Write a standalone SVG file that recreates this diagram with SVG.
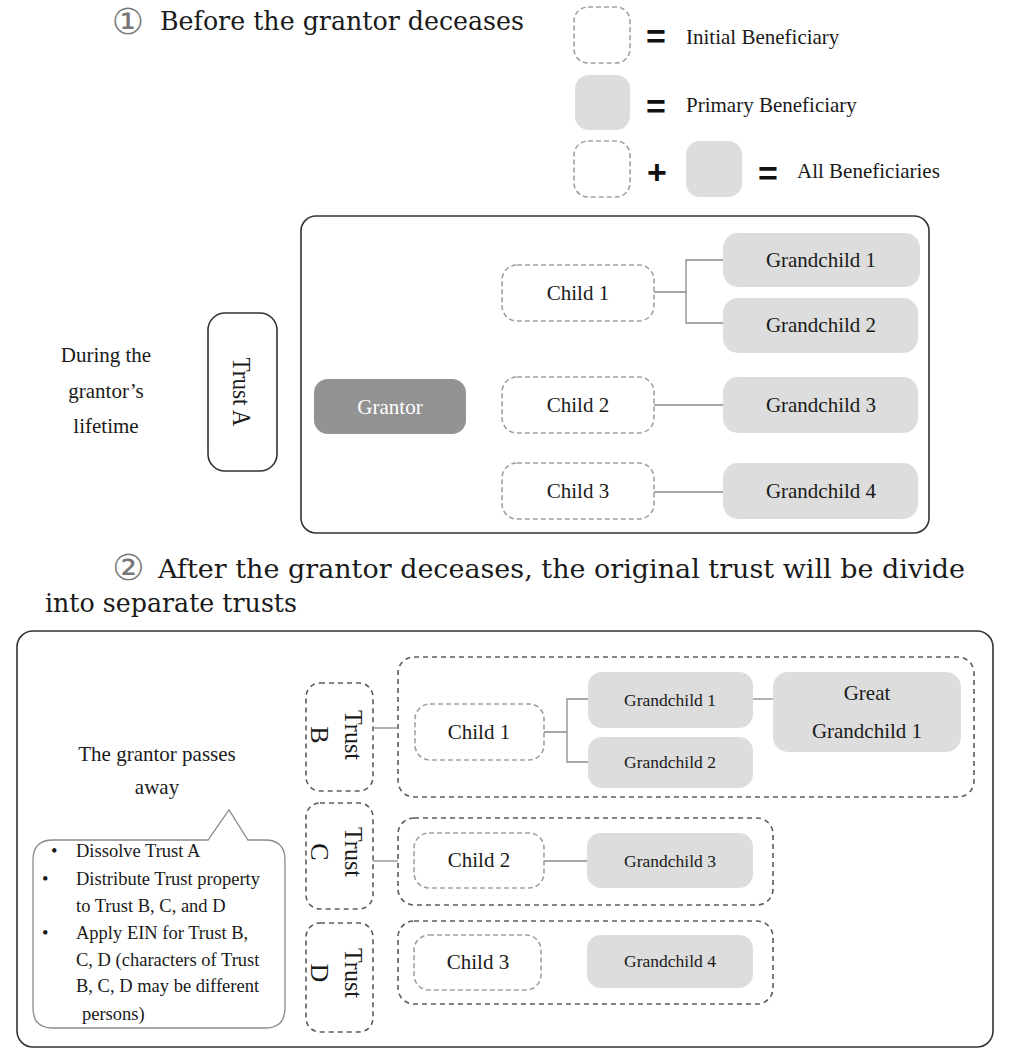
<svg xmlns="http://www.w3.org/2000/svg" width="1009" height="1062" viewBox="0 0 1009 1062" font-family="'Liberation Serif', 'DejaVu Serif', serif">
<style>
text{font-family:"Liberation Serif","DejaVu Serif",serif;fill:#1a1a1a}
.c{text-anchor:middle}
.f21{font-size:21px}
.f18{font-size:18.5px}
.f17{font-size:17.5px}
.ttl{font-family:"DejaVu Serif",serif;font-size:26px}
.rot{font-size:26px}
.sym{font-family:"Liberation Sans",Arial,sans-serif;font-weight:bold;font-size:34px;fill:#111}
.circ{font-family:"DejaVu Sans","Noto Sans CJK JP",sans-serif;font-size:36px;fill:#777;text-anchor:middle}
.frame{fill:none;stroke:#333;stroke-width:1.6}
.trust{fill:#fff;stroke:#333;stroke-width:1.6}
.ini{fill:#fff;stroke:#a0a0a0;stroke-width:1.6;stroke-dasharray:5 3}
.pri{fill:#dcdddc}
.grp{fill:none;stroke:#5c5c5c;stroke-width:1.6;stroke-dasharray:5 4}
.gtr{fill:#939393}
.ln{fill:none;stroke:#8a8a8a;stroke-width:1.3}
.bubble{fill:#fff;stroke:#8a8a8a;stroke-width:1.3}
</style>

<!-- Titles -->
<g id="title1">
<text class="circ" x="128" y="34">①</text>
<text class="ttl" x="160" y="30" textLength="364" lengthAdjust="spacingAndGlyphs">Before the grantor deceases</text>
</g>
<g id="title2">
<text class="circ" x="128.5" y="580">②</text>
<text class="ttl" x="158" y="578" textLength="807" lengthAdjust="spacingAndGlyphs">After the grantor deceases, the original trust will be divide</text>
<text class="ttl" x="45" y="612" textLength="252" lengthAdjust="spacingAndGlyphs">into separate trusts</text>
</g>

<!-- Legend -->
<g id="legend">
<rect class="ini" x="574" y="7" width="56" height="56" rx="14"/>
<text class="sym" x="646" y="48">=</text>
<text class="f21" x="686" y="44">Initial Beneficiary</text>
<rect class="pri" x="575" y="75" width="55" height="55" rx="14"/>
<text class="sym" x="646" y="118">=</text>
<text class="f21" x="686" y="112">Primary Beneficiary</text>
<rect class="ini" x="574" y="141" width="56" height="56" rx="14"/>
<text class="sym" x="647" y="184">+</text>
<rect class="pri" x="686" y="141" width="56" height="56" rx="14"/>
<text class="sym" x="758" y="185">=</text>
<text class="f21" x="797" y="178">All Beneficiaries</text>
</g>

<!-- Section 1 -->
<g id="lifetime-label">
<text class="f21 c" x="106" y="362">During the</text>
<text class="f21 c" x="106" y="398">grantor’s</text>
<text class="f21 c" x="106" y="433">lifetime</text>
</g>
<g id="trustA">
<rect class="trust" x="208" y="313" width="69" height="158" rx="17"/>
<text class="rot c" transform="translate(233,392) rotate(90)" textLength="69" lengthAdjust="spacingAndGlyphs">Trust A</text>
</g>
<g id="frame1">
<rect class="frame" x="301" y="216" width="628" height="317" rx="15"/>
</g>
<g id="grantor">
<rect class="gtr" x="314" y="379" width="152" height="55" rx="14"/>
<text class="f21 c" x="390" y="414" style="fill:#fff">Grantor</text>
</g>
<g id="s1-child1">
<rect class="ini" x="502" y="265" width="152" height="56" rx="15"/>
<text class="f21 c" x="578" y="300">Child 1</text>
</g>
<g id="s1-gc1">
<rect class="pri" x="723" y="233" width="197" height="54" rx="15"/>
<text class="f21 c" x="821" y="267">Grandchild 1</text>
</g>
<g id="s1-gc2">
<rect class="pri" x="723" y="298" width="195" height="55" rx="15"/>
<text class="f21 c" x="821" y="332">Grandchild 2</text>
</g>
<g id="s1-child2">
<rect class="ini" x="502" y="377" width="152" height="56" rx="15"/>
<text class="f21 c" x="578" y="412">Child 2</text>
</g>
<g id="s1-gc3">
<rect class="pri" x="723" y="377" width="195" height="56" rx="15"/>
<text class="f21 c" x="821" y="412">Grandchild 3</text>
</g>
<g id="s1-child3">
<rect class="ini" x="502" y="463" width="152" height="56" rx="15"/>
<text class="f21 c" x="578" y="498">Child 3</text>
</g>
<g id="s1-gc4">
<rect class="pri" x="723" y="463" width="195" height="56" rx="15"/>
<text class="f21 c" x="821" y="498">Grandchild 4</text>
</g>

<!-- Section 2 -->
<g id="frame2">
<rect class="frame" x="17" y="631" width="976" height="416" rx="16"/>
</g>
<g id="passes-label">
<text class="f21 c" x="157" y="761">The grantor passes</text>
<text class="f21 c" x="157" y="794">away</text>
</g>
<g id="callout">
<path class="bubble" d="M53 840 H208 L229 810 L248 840 H265 Q285 840 285 860 V1008 Q285 1028 265 1028 H53 Q33 1028 33 1008 V860 Q33 840 53 840 Z"/>
<text class="f18" x="51" y="857">•</text>
<text class="f18" x="76" y="857">Dissolve Trust A</text>
<text class="f18" x="42" y="885">•</text>
<text class="f18" x="76" y="885">Distribute Trust property</text>
<text class="f18" x="76" y="912">to Trust B, C, and D</text>
<text class="f18" x="42" y="939">•</text>
<text class="f18" x="76" y="939">Apply EIN for Trust B,</text>
<text class="f18" x="76" y="966">C, D (characters of Trust</text>
<text class="f18" x="76" y="992">B, C, D may be different</text>
<text class="f18" x="82" y="1020">persons)</text>
</g>
<g id="trustB">
<rect class="grp" x="306" y="683" width="67" height="108" rx="14"/>
<text class="rot c" transform="translate(345,735) rotate(90)"><tspan x="0" y="0" textLength="50" lengthAdjust="spacingAndGlyphs">Trust</tspan><tspan x="0" y="34">B</tspan></text>
</g>
<g id="trustC">
<rect class="grp" x="306" y="803" width="67" height="106" rx="14"/>
<text class="rot c" transform="translate(345,852) rotate(90)"><tspan x="0" y="0" textLength="50" lengthAdjust="spacingAndGlyphs">Trust</tspan><tspan x="0" y="34">C</tspan></text>
</g>
<g id="trustD">
<rect class="grp" x="306" y="923" width="67" height="109" rx="14"/>
<text class="rot c" transform="translate(345,973) rotate(90)"><tspan x="0" y="0" textLength="50" lengthAdjust="spacingAndGlyphs">Trust</tspan><tspan x="0" y="34">D</tspan></text>
</g>
<g id="groupB"><rect class="grp" x="398" y="657" width="576" height="140" rx="16"/></g>
<g id="groupC"><rect class="grp" x="398" y="818" width="375" height="87" rx="16"/></g>
<g id="groupD"><rect class="grp" x="398" y="921" width="375" height="83" rx="16"/></g>
<g id="s2-child1">
<rect class="ini" x="415" y="704" width="129" height="56" rx="15"/>
<text class="f21 c" x="479" y="739">Child 1</text>
</g>
<g id="s2-gc1">
<rect class="pri" x="588" y="672" width="165" height="56" rx="14"/>
<text class="f17 c" x="670" y="706">Grandchild 1</text>
</g>
<g id="s2-gc2">
<rect class="pri" x="588" y="737" width="165" height="51" rx="14"/>
<text class="f17 c" x="670" y="768">Grandchild 2</text>
</g>
<g id="s2-ggc1">
<rect class="pri" x="773" y="672" width="188" height="80" rx="15"/>
<text class="f21 c" x="867" y="700">Great</text>
<text class="f21 c" x="867" y="738">Grandchild 1</text>
</g>
<g id="s2-child2">
<rect class="ini" x="414" y="833" width="130" height="55" rx="15"/>
<text class="f21 c" x="479" y="867">Child 2</text>
</g>
<g id="s2-gc3">
<rect class="pri" x="587" y="833" width="166" height="55" rx="14"/>
<text class="f17 c" x="670" y="867">Grandchild 3</text>
</g>
<g id="s2-child3">
<rect class="ini" x="414" y="935" width="127" height="55" rx="15"/>
<text class="f21 c" x="478" y="969">Child 3</text>
</g>
<g id="s2-gc4">
<rect class="pri" x="587" y="935" width="166" height="53" rx="14"/>
<text class="f17 c" x="670" y="967">Grandchild 4</text>
</g>

<!-- Connectors -->
<g id="connectors">
<path class="ln" d="M654 292 H686 M723 260 H686 V323 H723"/>
<path class="ln" d="M654 405 H723"/>
<path class="ln" d="M654 492 H723"/>
<path class="ln" d="M373 728 H398"/>
<path class="ln" d="M544 732 H567 M588 699 H567 V762 H588"/>
<path class="ln" d="M753 699 H773"/>
<path class="ln" d="M373 861 H398"/>
<path class="ln" d="M544 861 H587"/>
</g>
</svg>
